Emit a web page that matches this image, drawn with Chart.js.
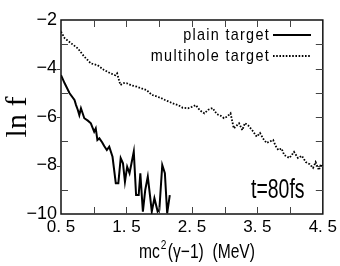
<!DOCTYPE html>
<html>
<head>
<meta charset="utf-8">
<script src="https://cdn.jsdelivr.net/npm/chart.js@4.4.1/dist/chart.umd.min.js"></script>
<style>
  html, body { margin: 0; padding: 0; background: #fff; }
  canvas { display: block; }
</style>
</head>
<body>
<canvas id="chart" width="340" height="266"></canvas>
<script>
// values
const plainEnergy = [0.5, 0.556, 0.631, 0.706, 0.73, 0.756, 0.78, 0.805, 0.856, 0.91,
  0.956, 1.007, 1.031, 1.056, 1.086, 1.13, 1.16, 1.2, 1.237, 1.287,
  1.337, 1.376, 1.412, 1.447, 1.477, 1.511, 1.547, 1.577, 1.612, 1.647,
  1.687, 1.712, 1.751, 1.787, 1.826, 1.862, 1.887, 1.927, 1.977, 2.002,
  2.047, 2.087, 2.122, 2.162];
const plainLnF = [-4.27, -4.61, -5.02, -5.30, -5.51, -5.70, -5.92, -5.64, -6.05, -6.15,
  -6.26, -6.61, -6.47, -6.95, -6.88, -7.05, -7.20, -7.36, -7.22, -7.64,
  -8.73, -8.73, -7.70, -7.91, -8.67, -8.05, -8.32, -7.91, -7.43, -9.22,
  -9.22, -8.32, -9.90, -9.01, -8.46, -9.29, -9.90, -9.35, -9.90, -9.84,
  -7.98, -8.32, -9.97, -9.22];

const multiEnergy = [0.5, 0.556, 0.655, 0.756, 0.856, 0.956, 1.056, 1.157, 1.256, 1.33,
  1.357, 1.407, 1.46, 1.508, 1.58, 1.658, 1.73, 1.808, 1.888, 1.96,
  2.03, 2.089, 2.16, 2.22, 2.29, 2.36, 2.44, 2.5, 2.56, 2.62,
  2.69, 2.75, 2.816, 2.88, 2.94, 2.99, 3.04, 3.09, 3.14, 3.22,
  3.27, 3.31, 3.36, 3.42, 3.49, 3.54, 3.59, 3.64, 3.74, 3.78,
  3.82, 3.87, 3.91, 3.99, 4.06, 4.12, 4.18, 4.24, 4.3, 4.35,
  4.39, 4.44, 4.47, 4.5];
const multiLnF = [-2.48, -2.75, -2.96, -3.17, -3.51, -3.79, -3.86, -4.06, -4.20, -4.28,
  -4.20, -4.68, -4.60, -4.61, -4.70, -4.75, -4.82, -4.89, -5.09, -5.15,
  -5.22, -5.30, -5.38, -5.45, -5.51, -5.62, -5.64, -5.58, -5.51, -5.72,
  -5.85, -5.70, -5.63, -5.88, -5.95, -6.05, -5.98, -5.85, -6.47, -6.26,
  -6.54, -6.25, -6.35, -6.54, -6.81, -6.66, -6.90, -7.07, -6.95, -7.20,
  -7.36, -7.30, -7.57, -7.69, -7.44, -7.69, -7.60, -7.86, -7.95, -8.10,
  -7.86, -8.19, -7.95, -8.05];

const seriesNames = ["plain target", "multihole target"];
const xTickValues = [0.5, 1.5, 2.5, 3.5, 4.5];
const xTickLabels = ["0. 5", "1. 5", "2. 5", "3. 5", "4. 5"];
const yTickValues = [-10, -8, -6, -4, -2];
const xTitleParts = ["mc", "2", "(γ−1)  (MeV)"];
const timeLabel = "t=80fs";

const sans = "'Liberation Sans', Arial, sans-serif";

function toPoints(xs, ys) {
  return xs.map((x, i) => ({ x: x, y: ys[i] }));
}

// squeezed text, to mimic the narrow gothic font of the original
function narrowText(ctx, text, x, y, sx, align) {
  ctx.save();
  ctx.translate(x, y);
  ctx.scale(sx, 1);
  ctx.textAlign = align;
  ctx.fillText(text, 0, 0);
  ctx.restore();
}

// box round the plot with inward ticks
const frameTicks = {
  id: "frameTicks",
  afterDraw(chart) {
    const { ctx, chartArea: a, scales } = chart;
    const xs = scales.x, ys = scales.y;
    ctx.save();
    ctx.strokeStyle = "#111";
    ctx.lineWidth = 1.5;
    ctx.strokeRect(a.left, a.top, a.right - a.left, a.bottom - a.top);
    ctx.lineWidth = 1;
    ctx.strokeStyle = "#444";
    ctx.beginPath();
    for (let v = 1; v < 4.5; v += 0.5) {
      const px = Math.round(xs.getPixelForValue(v)) + 0.5;
      ctx.moveTo(px, a.bottom); ctx.lineTo(px, a.bottom - 7);
      ctx.moveTo(px, a.top); ctx.lineTo(px, a.top + 7);
    }
    for (let v = -9; v < -2; v += 1) {
      const py = Math.round(ys.getPixelForValue(v)) + 0.5;
      ctx.moveTo(a.right, py); ctx.lineTo(a.right - 7, py);
      if (v % 2 === 0) {
        ctx.moveTo(a.left, py); ctx.lineTo(a.left - 4, py);
      } else {
        ctx.moveTo(a.left, py); ctx.lineTo(a.left + 7, py);
      }
    }
    ctx.stroke();
    ctx.restore();
  }
};

// legend (text then line), x title and the time note
const notes = {
  id: "notes",
  afterDraw(chart) {
    const { ctx } = chart;
    ctx.save();
    ctx.fillStyle = "#000";
    ctx.textBaseline = "middle";
    ctx.font = "17px " + sans;
    ctx.letterSpacing = "1.5px";
    chart.data.datasets.forEach((ds, i) => {
      const y = 35 + i * 21;
      narrowText(ctx, ds.label, 270, y, 0.85, "right");
      ctx.strokeStyle = ds.borderColor;
      ctx.lineWidth = ds.borderWidth;
      ctx.setLineDash(ds.borderDash || []);
      ctx.beginPath();
      ctx.moveTo(273, y);
      ctx.lineTo(311, y);
      ctx.stroke();
    });
    ctx.setLineDash([]);
    ctx.letterSpacing = "0px";

    // x axis title
    const sx = 0.78;
    ctx.font = "20px " + sans;
    const w0 = ctx.measureText(xTitleParts[0]).width;
    const w2 = ctx.measureText(xTitleParts[2]).width;
    ctx.font = "13px " + sans;
    const w1 = ctx.measureText(xTitleParts[1]).width + 3;
    const total = (w0 + w1 + w2) * sx;
    let x = 197 - total / 2;
    ctx.font = "20px " + sans;
    narrowText(ctx, xTitleParts[0], x, 252, sx, "left");
    x += w0 * sx;
    ctx.font = "13px " + sans;
    narrowText(ctx, xTitleParts[1], x + 1, 245, sx, "left");
    x += w1 * sx;
    ctx.font = "20px " + sans;
    narrowText(ctx, xTitleParts[2], x, 252, sx, "left");

    ctx.font = "27px " + sans;
    narrowText(ctx, timeLabel, 251, 191, 0.72, "left");
    ctx.restore();
  }
};

new Chart(document.getElementById("chart"), {
  type: "line",
  data: {
    datasets: [{
      label: seriesNames[0],
      data: toPoints(plainEnergy, plainLnF),
      borderColor: "#000",
      borderWidth: 2,
      pointRadius: 0,
      tension: 0
    }, {
      label: seriesNames[1],
      data: toPoints(multiEnergy, multiLnF),
      borderColor: "#000",
      borderWidth: 1.8,
      borderDash: [1.6, 1.6],
      pointRadius: 0,
      tension: 0
    }]
  },
  options: {
    responsive: false,
    devicePixelRatio: 1,
    animation: false,
    layout: { padding: { top: 20, right: 13, left: 0, bottom: 0 } },
    plugins: {
      legend: { display: false },
      tooltip: { enabled: false }
    },
    scales: {
      x: {
        type: "linear",
        min: 0.5,
        max: 4.5,
        afterBuildTicks: (s) => { s.ticks = xTickValues.map(v => ({ value: v })); },
        afterFit: (s) => { s.height = 52; },
        grid: { display: false, drawTicks: false },
        border: { display: false },
        ticks: {
          padding: 3,
          maxRotation: 0,
          color: "#000",
          font: { family: sans, size: 17 },
          callback: (v) => xTickLabels[xTickValues.indexOf(v)]
        }
      },
      y: {
        min: -10,
        max: -2,
        afterBuildTicks: (s) => { s.ticks = yTickValues.map(v => ({ value: v })); },
        afterFit: (s) => { s.width = 61; },
        grid: { display: false, drawTicks: false },
        border: { display: false },
        ticks: {
          padding: 4,
          color: "#000",
          font: { family: sans, size: 18 },
          callback: (v) => String(v).replace("-", "\u2212")
        },
        title: {
          display: true,
          text: "ln f",
          color: "#000",
          font: { family: "'Liberation Serif', serif", size: 30 },
          padding: { top: 0, bottom: 0 }
        }
      }
    }
  },
  plugins: [frameTicks, notes]
});
</script>
</body>
</html>
